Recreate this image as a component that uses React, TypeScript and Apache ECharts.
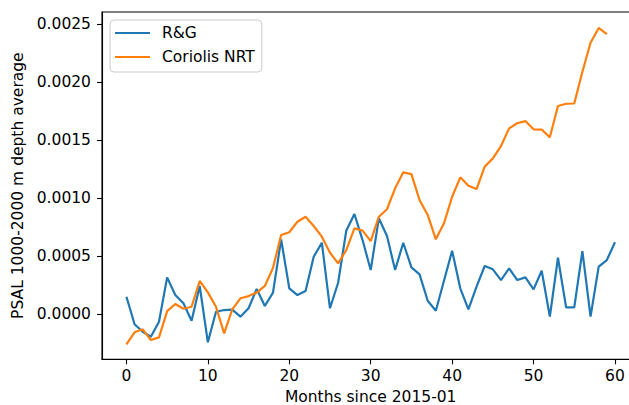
import React, { useEffect, useRef } from "react";
import * as echarts from "echarts";

const months: number[] = Array.from({ length: 61 }, (_, i) => i);

const rgValues: number[] = [
  0.000151, -0.000085, -0.00015, -0.000193, -0.000064, 0.000318, 0.000166, 0.000095, -0.000055, 0.000244,
  -0.000241, 0.000022, 0.000037, 0.00004, -0.00002, 0.000052, 0.000218, 0.000072, 0.000187, 0.000645,
  0.000224, 0.000166, 0.0002, 0.000496, 0.000616, 0.000052, 0.000272, 0.00072, 0.000863, 0.000639,
  0.000381, 0.000826, 0.000674, 0.000381, 0.000616, 0.000404, 0.000344, 0.000117, 0.000031, 0.000289,
  0.000547, 0.000224, 0.000043, 0.000238, 0.000416, 0.000387, 0.000295, 0.000396, 0.000295, 0.000318,
  0.000215, 0.000375, -0.00002, 0.000487, 0.00006, 0.00006, 0.000544, -0.00002, 0.00041, 0.000467,
  0.00062,
];

const coriolisValues: number[] = [
  -0.000258, -0.000155, -0.000129, -0.000221, -0.000198, 0.000028, 0.000089, 0.000048, 0.000065, 0.000287,
  0.000189, 0.000065, -0.000164, 0.000043, 0.000138, 0.000157, 0.000187, 0.000244, 0.0004, 0.000682,
  0.000706, 0.000797, 0.00084, 0.00076, 0.000668, 0.00053, 0.000439, 0.000553, 0.00074, 0.00072,
  0.00063, 0.00084, 0.000904, 0.001084, 0.001222, 0.001207, 0.000984, 0.000855, 0.000645, 0.000783,
  0.001012, 0.001179, 0.001107, 0.001078, 0.00127, 0.001342, 0.001448, 0.0016, 0.001644, 0.001663,
  0.001592, 0.00159, 0.001523, 0.001793, 0.001812, 0.001814, 0.002088, 0.002337, 0.002464, 0.002412,
];

const xTicks: number[] = [0, 10, 20, 30, 40, 50, 60];
const yTicks: number[] = [0, 0.0005, 0.001, 0.0015, 0.002, 0.0025];
const seriesNames: string[] = ["R&G", "Coriolis NRT"];
const colors: string[] = ["#1f77b4", "#ff7f0e"];

const FONT = "DejaVu Sans";
const FS = 15.5;

export default function App() {
  const ref = useRef<HTMLDivElement>(null);
  useEffect(() => {
    if (!ref.current) return;
    const chart = echarts.init(ref.current, undefined, { renderer: "svg" });
    const rgData = rgValues.map((v, i) => [months[i], v]);
    const corData = coriolisValues.map((v, i) => [months[i], v]);
    chart.setOption({
      animation: false,
      backgroundColor: "#ffffff",
      textStyle: { fontFamily: FONT },
      grid: {
        left: 102,
        top: 12,
        right: 5.6,
        bottom: 45.7,
        outerBoundsMode: "none",
        containLabel: false,
        show: true,
        borderColor: "#000000",
        borderWidth: 1.1,
        backgroundColor: "transparent",
      },
      legend: {
        orient: "vertical",
        left: 110,
        top: 20,
        data: seriesNames,
        icon: "rect",
        itemWidth: 35,
        itemHeight: 2.2,
        itemGap: 8,
        padding: [5, 7, 7, 5],
        backgroundColor: "#ffffff",
        borderColor: "#cccccc",
        borderWidth: 1,
        borderRadius: 4,
        textStyle: {
          fontFamily: FONT,
          fontSize: FS,
          color: "#000000",
          lineHeight: 16,
          padding: [0, 0, 0, 7],
        },
      },
      xAxis: {
        type: "value",
        min: -3,
        max: 63,
        name: "Months since 2015-01",
        nameLocation: "middle",
        nameGap: 28,
        nameTextStyle: { fontFamily: FONT, fontSize: FS, color: "#000000" },
        axisLine: { show: true, onZero: false, lineStyle: { color: "#000000", width: 1.1 } },
        axisTick: { show: true, length: 5, customValues: xTicks, lineStyle: { color: "#000000", width: 1.1 } },
        axisLabel: {
          customValues: xTicks,
          fontFamily: FONT,
          fontSize: FS,
          color: "#000000",
          margin: 9,
          formatter: (v: number) => String(v),
        },
        splitLine: { show: false },
      },
      yAxis: {
        type: "value",
        min: -0.000387,
        max: 0.0026015,
        name: "PSAL 1000-2000 m depth average",
        nameLocation: "middle",
        nameGap: 72,
        nameTextStyle: { fontFamily: FONT, fontSize: FS, color: "#000000" },
        axisLine: { show: true, onZero: false, lineStyle: { color: "#000000", width: 1.1 } },
        axisTick: { show: true, length: 5, customValues: yTicks, lineStyle: { color: "#000000", width: 1.1 } },
        axisLabel: {
          customValues: yTicks,
          fontFamily: FONT,
          fontSize: FS,
          color: "#000000",
          margin: 11,
          formatter: (v: number) => v.toFixed(4),
        },
        splitLine: { show: false },
      },
      series: [
        {
          name: seriesNames[0],
          type: "line",
          data: rgData,
          showSymbol: false,
          symbol: "none",
          color: colors[0],
          lineStyle: { color: colors[0], width: 2.2 },
        },
        {
          name: seriesNames[1],
          type: "line",
          data: corData,
          showSymbol: false,
          symbol: "none",
          color: colors[1],
          lineStyle: { color: colors[1], width: 2.2 },
        },
      ],
    });
    return () => chart.dispose();
  }, []);
  return (
    <div style={{ position: "fixed", left: 0, top: 0, width: 629, height: 405, overflow: "hidden", background: "#fff" }}>
      <div ref={ref} style={{ width: 645, height: 405 }} />
    </div>
  );
}
